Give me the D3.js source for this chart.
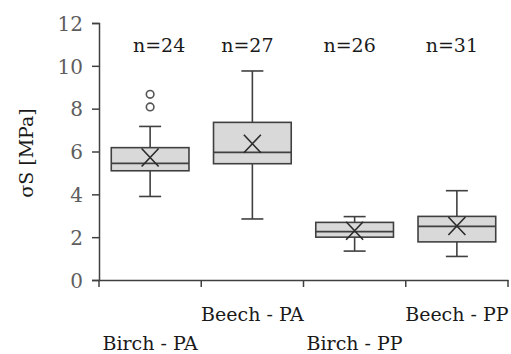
<!DOCTYPE html>
<html>
<head>
<meta charset="utf-8">
<script src="https://cdn.jsdelivr.net/npm/d3@7"></script>
<style>
  body { margin: 0; background: #fff; }
  svg { display: block; }
</style>
</head>
<body>
<svg id="chart" width="511" height="354"></svg>
<script>
// data
var categories = ["Birch - PA", "Beech - PA", "Birch - PP", "Beech - PP"];
var counts = [24, 27, 26, 31];
var whiskerLow = [3.9, 2.85, 1.35, 1.1];
var q1 = [5.1, 5.43, 2.0, 1.78];
var median = [5.45, 5.96, 2.26, 2.5];
var q3 = [6.18, 7.36, 2.69, 2.97];
var whiskerHigh = [7.17, 9.76, 2.96, 4.17];
var means = [5.72, 6.36, 2.3, 2.52];
var outliers = [[8.08, 8.67], [], [], []];
var yTicks = [0, 2, 4, 6, 8, 10, 12];

var svg = d3.select("#chart");
var axisColor = "#404040";
var serif = "'DejaVu Serif', 'Liberation Serif', serif";

var x = d3.scaleBand().domain(categories).range([99, 508]).padding(0);
var y = d3.scaleLinear().domain([0, 12]).range([280, 23]);

var bw = x.bandwidth() * 0.76;
var capW = 22;

// axes
var yAxis = svg.append("g")
    .attr("transform", "translate(99,0)")
    .call(d3.axisLeft(y).tickValues(yTicks).tickSize(7).tickPadding(9));
yAxis.select(".domain").attr("stroke", axisColor).attr("stroke-width", 1.5);
yAxis.selectAll(".tick line").attr("stroke", axisColor).attr("stroke-width", 1.5);
yAxis.selectAll(".tick text")
    .attr("fill", "#5e5e5e")
    .style("font-family", serif)
    .style("font-size", "20px")
    .attr("dy", "0.36em");

var xAxis = svg.append("g")
    .attr("transform", "translate(0,280)")
    .call(d3.axisBottom(x).tickSize(0).tickFormat(""));
xAxis.select(".domain").attr("stroke", axisColor).attr("stroke-width", 1.5);
// tick marks at band edges
var edges = categories.map(function(c) { return x(c); }).concat([x.range()[1]]);
xAxis.selectAll("line.edge")
    .data(edges)
    .enter().append("line")
    .attr("class", "edge")
    .attr("x1", function(d) { return d; })
    .attr("x2", function(d) { return d; })
    .attr("y1", 0).attr("y2", 7)
    .attr("stroke", axisColor).attr("stroke-width", 1.5);

// staggered category labels
svg.selectAll("text.cat")
    .data(categories)
    .enter().append("text")
    .attr("class", "cat")
    .attr("x", function(d) { return x(d) + x.bandwidth() / 2; })
    .attr("y", function(d, i) { return i % 2 === 0 ? 350 : 321; })
    .attr("text-anchor", "middle")
    .style("font-family", serif)
    .style("font-size", "19px")
    .attr("fill", "#1a1a1a")
    .text(function(d) { return d; });

// y title
svg.append("text")
    .attr("transform", "translate(33,153) rotate(-90)")
    .attr("text-anchor", "middle")
    .style("font-family", serif)
    .style("font-size", "19px")
    .attr("fill", "#1a1a1a")
    .text("σS [MPa]");

// boxes
var boxes = svg.selectAll("g.box")
    .data(categories)
    .enter().append("g")
    .attr("class", "box")
    .attr("transform", function(d) { return "translate(" + (x(d) + x.bandwidth() / 2) + ",0)"; });

boxes.append("line")
    .attr("x1", 0).attr("x2", 0)
    .attr("y1", function(d, i) { return y(whiskerHigh[i]); })
    .attr("y2", function(d, i) { return y(whiskerLow[i]); })
    .attr("stroke", axisColor).attr("stroke-width", 1.6);

boxes.append("line")
    .attr("x1", -capW / 2).attr("x2", capW / 2)
    .attr("y1", function(d, i) { return y(whiskerHigh[i]); })
    .attr("y2", function(d, i) { return y(whiskerHigh[i]); })
    .attr("stroke", axisColor).attr("stroke-width", 1.6);

boxes.append("line")
    .attr("x1", -capW / 2).attr("x2", capW / 2)
    .attr("y1", function(d, i) { return y(whiskerLow[i]); })
    .attr("y2", function(d, i) { return y(whiskerLow[i]); })
    .attr("stroke", axisColor).attr("stroke-width", 1.6);

boxes.append("rect")
    .attr("x", -bw / 2)
    .attr("width", bw)
    .attr("y", function(d, i) { return y(q3[i]); })
    .attr("height", function(d, i) { return y(q1[i]) - y(q3[i]); })
    .attr("fill", "#d9d9d9")
    .attr("stroke", axisColor).attr("stroke-width", 1.6);

boxes.append("line")
    .attr("x1", -bw / 2).attr("x2", bw / 2)
    .attr("y1", function(d, i) { return y(median[i]); })
    .attr("y2", function(d, i) { return y(median[i]); })
    .attr("stroke", axisColor).attr("stroke-width", 1.8);

// mean marker X
var mx = 8.5, my = 9;
boxes.append("path")
    .attr("d", function(d, i) {
        var cy = y(means[i]);
        return "M" + (-mx) + "," + (cy - my) + "L" + mx + "," + (cy + my) +
               "M" + mx + "," + (cy - my) + "L" + (-mx) + "," + (cy + my);
    })
    .attr("fill", "none")
    .attr("stroke", "#2a2a2a").attr("stroke-width", 1.6);

// outliers
boxes.each(function(d, i) {
    d3.select(this).selectAll("circle")
        .data(outliers[i])
        .enter().append("circle")
        .attr("cx", 0)
        .attr("cy", function(v) { return y(v); })
        .attr("r", 3.8)
        .attr("fill", "#fff")
        .attr("stroke", "#555").attr("stroke-width", 1.6);
});

// n labels (hand placed in the original, slightly off centre)
var nShift = [9, -5, -5, -5];
svg.selectAll("text.n")
    .data(categories)
    .enter().append("text")
    .attr("class", "n")
    .attr("x", function(d, i) { return x(d) + x.bandwidth() / 2 + nShift[i]; })
    .attr("y", 51.5)
    .attr("text-anchor", "middle")
    .style("font-family", serif)
    .style("font-size", "19px")
    .attr("fill", "#1a1a1a")
    .text(function(d, i) { return "n=" + counts[i]; });
</script>
</body>
</html>
